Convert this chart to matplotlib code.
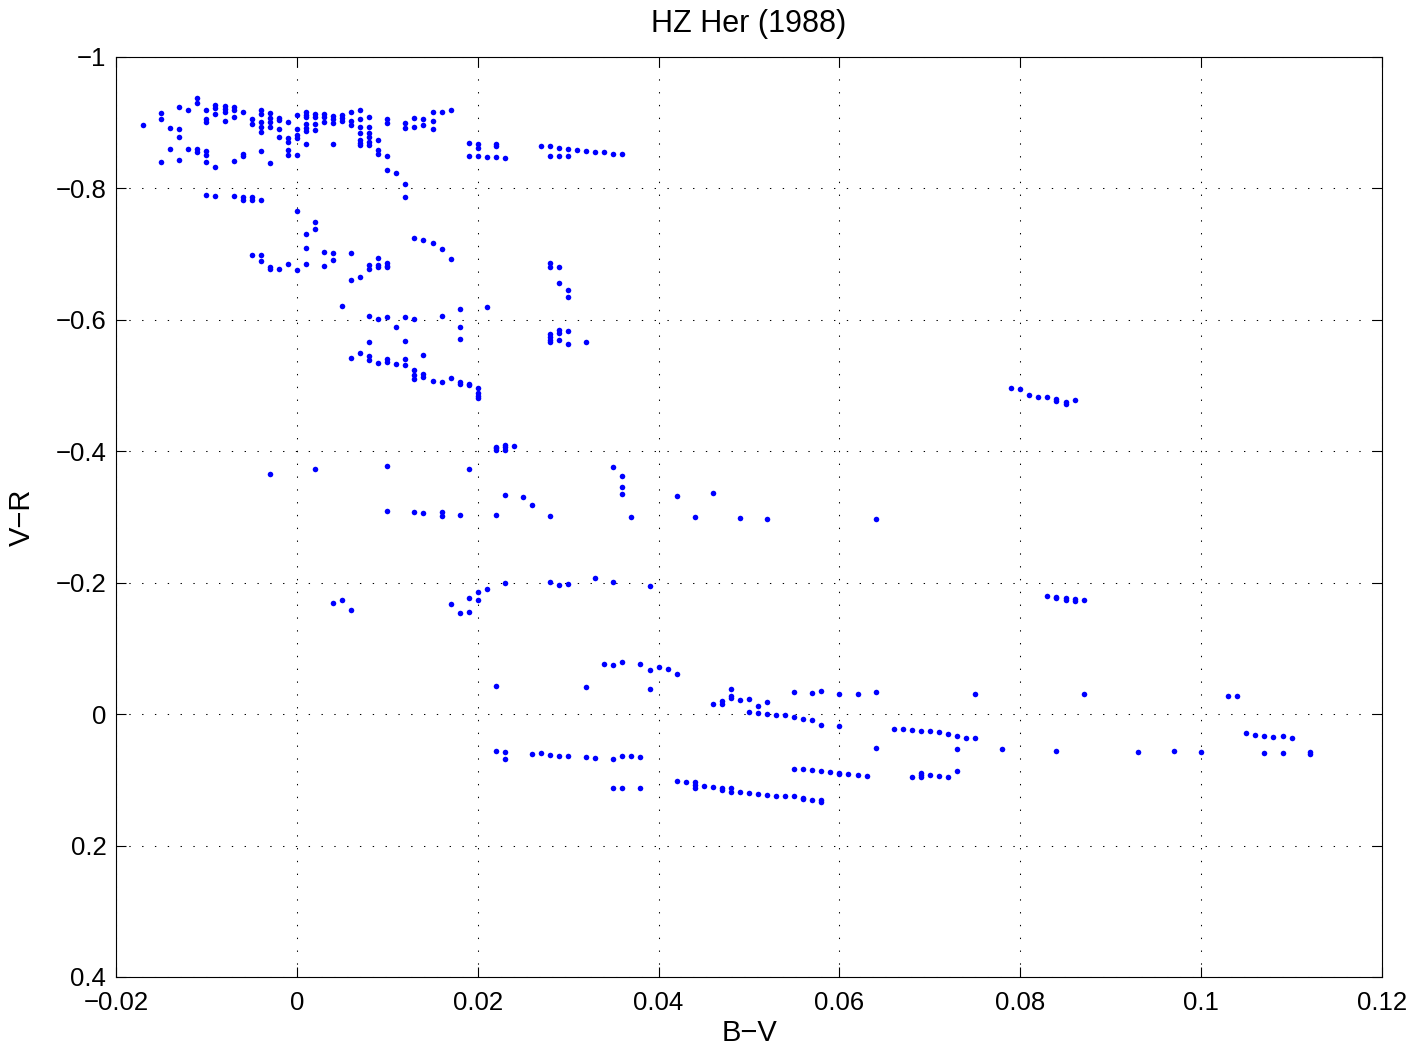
import matplotlib
matplotlib.use("Agg")
import matplotlib.pyplot as plt
import numpy as np

# B-V values in thousandths of a magnitude, V-R in magnitudes
upper_pts = [
    (-17, -0.897), (-15, -0.915), (-15, -0.906), (-15, -0.840), (-14, -0.892), (-14, -0.860),
    (-13, -0.924), (-13, -0.891), (-13, -0.878), (-13, -0.844), (-12, -0.920), (-12, -0.860),
    (-11, -0.938), (-11, -0.930), (-11, -0.860), (-11, -0.856),
    (-10, -0.920), (-10, -0.905), (-10, -0.901), (-10, -0.857), (-10, -0.851), (-10, -0.840), (-10, -0.790),
    (-9, -0.927), (-9, -0.922), (-9, -0.913), (-9, -0.832), (-9, -0.789),
    (-8, -0.926), (-8, -0.921), (-8, -0.917), (-8, -0.902),
    (-7, -0.924), (-7, -0.919), (-7, -0.908), (-7, -0.841), (-7, -0.788),
    (-6, -0.917), (-6, -0.853), (-6, -0.850), (-6, -0.787), (-6, -0.783),
    (-5, -0.906), (-5, -0.898), (-5, -0.787), (-5, -0.783),
    (-4, -0.919), (-4, -0.914), (-4, -0.901), (-4, -0.893), (-4, -0.886), (-4, -0.857), (-4, -0.782),
    (-3, -0.915), (-3, -0.907), (-3, -0.901), (-3, -0.893), (-3, -0.838),
    (-2, -0.907), (-2, -0.904), (-2, -0.891), (-2, -0.878),
    (-1, -0.901), (-1, -0.876), (-1, -0.871), (-1, -0.859), (-1, -0.851),
    (0, -0.912), (0, -0.891), (0, -0.881), (0, -0.876), (0, -0.851),
    (1, -0.917), (1, -0.912), (1, -0.908), (1, -0.898), (1, -0.892), (1, -0.887), (1, -0.868),
    (2, -0.913), (2, -0.908), (2, -0.898), (2, -0.889),
    (3, -0.913), (3, -0.908), (3, -0.901),
    (4, -0.910), (4, -0.905), (4, -0.900), (4, -0.868),
    (5, -0.912), (5, -0.907), (5, -0.903),
    (6, -0.916), (6, -0.903), (6, -0.897),
    (7, -0.919), (7, -0.905), (7, -0.893), (7, -0.884), (7, -0.874), (7, -0.869), (7, -0.866),
    (8, -0.908), (8, -0.893), (8, -0.884), (8, -0.879), (8, -0.871), (8, -0.866),
    (9, -0.874), (9, -0.858), (9, -0.852),
    (10, -0.905), (10, -0.900), (10, -0.850), (10, -0.828), (11, -0.823),
    (12, -0.900), (12, -0.892), (12, -0.807), (12, -0.787),
    (13, -0.907), (13, -0.894), (14, -0.905), (14, -0.897),
    (15, -0.916), (15, -0.903), (15, -0.890), (16, -0.917), (17, -0.920),
    (19, -0.869), (19, -0.850), (20, -0.868), (20, -0.861), (20, -0.849), (21, -0.848),
    (22, -0.867), (22, -0.865), (22, -0.848), (23, -0.846),
    (27, -0.865), (28, -0.864), (28, -0.850), (29, -0.862), (29, -0.850), (30, -0.860), (30, -0.849),
    (31, -0.858), (32, -0.857), (33, -0.856), (34, -0.855), (35, -0.853), (36, -0.852),
]

middle_pts = [
    (0, -0.766), (0, -0.676), (1, -0.730), (1, -0.709), (1, -0.685), (2, -0.749), (2, -0.739),
    (-1, -0.685), (-2, -0.677), (-3, -0.681), (-3, -0.677), (-4, -0.698), (-4, -0.689), (-5, -0.698),
    (3, -0.704), (3, -0.682), (4, -0.701), (4, -0.691), (5, -0.621),
    (6, -0.701), (6, -0.660), (6, -0.542), (7, -0.665), (7, -0.550),
    (8, -0.683), (8, -0.677), (8, -0.606), (8, -0.566), (8, -0.545), (8, -0.539),
    (9, -0.694), (9, -0.683), (9, -0.680), (9, -0.601), (9, -0.535),
    (10, -0.686), (10, -0.682), (10, -0.680), (10, -0.605), (10, -0.541), (10, -0.536),
    (11, -0.589), (11, -0.533), (12, -0.605), (12, -0.568), (12, -0.541), (12, -0.531),
    (13, -0.725), (13, -0.601), (13, -0.523), (13, -0.516), (13, -0.510),
    (14, -0.722), (14, -0.547), (14, -0.518), (14, -0.513),
    (15, -0.717), (15, -0.507), (16, -0.708), (16, -0.606), (16, -0.505),
    (17, -0.693), (17, -0.512), (18, -0.617), (18, -0.589), (18, -0.571), (18, -0.506), (18, -0.503),
    (19, -0.503), (19, -0.501), (20, -0.497), (20, -0.488), (20, -0.484), (20, -0.481), (21, -0.619),
    (28, -0.686), (28, -0.680), (28, -0.578), (28, -0.574), (28, -0.570), (28, -0.566),
    (29, -0.680), (29, -0.656), (29, -0.585), (29, -0.580), (29, -0.570),
    (30, -0.645), (30, -0.635), (30, -0.583), (30, -0.564), (32, -0.567),
    (79, -0.497), (80, -0.495), (81, -0.485), (82, -0.483), (83, -0.482), (84, -0.480),
    (84, -0.477), (85, -0.475), (85, -0.472), (86, -0.478),
]

lower_mid_pts = [
    (-3, -0.365), (2, -0.373), (10, -0.378), (10, -0.309), (13, -0.308), (14, -0.306),
    (16, -0.307), (16, -0.302), (18, -0.303), (19, -0.373),
    (22, -0.407), (22, -0.405), (22, -0.402), (22, -0.303),
    (23, -0.410), (23, -0.406), (23, -0.402), (23, -0.334), (24, -0.408),
    (25, -0.330), (26, -0.319), (28, -0.302), (35, -0.376), (36, -0.363), (36, -0.346), (36, -0.335),
    (37, -0.300), (42, -0.332), (44, -0.300), (46, -0.336), (49, -0.298), (52, -0.297), (64, -0.297),
    (4, -0.169), (5, -0.173), (6, -0.158), (17, -0.167), (18, -0.154), (19, -0.176), (19, -0.156),
    (20, -0.186), (20, -0.173), (21, -0.190), (23, -0.200), (28, -0.201), (29, -0.196), (30, -0.198),
    (33, -0.207), (35, -0.201), (39, -0.195),
    (83, -0.180), (84, -0.178), (84, -0.176), (85, -0.177), (85, -0.174), (86, -0.175),
    (86, -0.172), (87, -0.173),
]

bottom_pts = [
    (22, -0.043), (22, 0.056), (23, 0.057), (23, 0.068), (26, 0.061), (27, 0.059), (28, 0.062),
    (29, 0.063), (30, 0.064), (32, -0.041), (32, 0.065), (33, 0.066), (34, -0.077),
    (35, -0.075), (35, 0.068), (35, 0.112), (36, -0.079), (36, 0.063), (36, 0.113), (37, 0.064),
    (38, -0.077), (38, 0.065), (38, 0.112), (39, -0.067), (39, -0.039), (40, -0.071), (41, -0.069),
    (42, -0.061), (42, 0.102), (43, 0.104), (44, 0.103), (44, 0.108), (44, 0.112), (45, 0.110),
    (46, -0.015), (46, 0.111), (47, -0.020), (47, -0.016), (47, 0.112), (47, 0.116),
    (48, -0.038), (48, -0.028), (48, -0.025), (48, 0.113), (48, 0.118),
    (49, -0.022), (49, 0.119), (50, -0.023), (50, -0.003), (50, 0.120),
    (51, -0.013), (51, -0.001), (51, 0.122), (52, -0.018), (52, 0.000), (52, 0.123),
    (53, 0.001), (53, 0.124), (54, 0.002), (54, 0.125),
    (55, -0.033), (55, 0.004), (55, 0.083), (55, 0.125),
    (56, 0.007), (56, 0.084), (56, 0.127), (56, 0.129),
    (57, -0.032), (57, 0.009), (57, 0.085), (57, 0.130),
    (58, -0.035), (58, 0.016), (58, 0.087), (58, 0.131), (58, 0.133),
    (59, 0.088), (60, -0.030), (60, 0.018), (60, 0.089), (60, 0.091), (61, 0.091),
    (62, -0.031), (62, 0.092), (63, 0.094), (64, -0.033), (64, 0.052),
    (66, 0.022), (67, 0.023), (68, 0.024), (68, 0.095), (69, 0.025), (69, 0.090), (69, 0.093),
    (69, 0.096), (70, 0.026), (70, 0.093), (71, 0.027), (71, 0.094), (72, 0.030), (72, 0.095),
    (73, 0.034), (73, 0.053), (73, 0.086), (74, 0.036), (75, -0.030), (75, 0.037), (78, 0.053),
    (84, 0.056), (87, -0.030), (93, 0.057), (97, 0.056), (100, 0.057), (103, -0.028), (104, -0.027),
    (105, 0.029), (106, 0.031), (107, 0.033), (107, 0.059), (108, 0.035), (109, 0.034), (109, 0.059),
    (110, 0.037), (112, 0.057), (112, 0.061),
]

x_ticks = [-0.02, 0, 0.02, 0.04, 0.06, 0.08, 0.1, 0.12]
y_ticks = [-1, -0.8, -0.6, -0.4, -0.2, 0, 0.2, 0.4]

plt.rcParams['font.family'] = ['Liberation Sans', 'DejaVu Sans']

fig = plt.figure(figsize=(14.28, 10.55), dpi=100)
ax = fig.add_axes([116 / 1428, 1 - 977 / 1055, (1382 - 116) / 1428, (977 - 57) / 1055])

all_pts = upper_pts + middle_pts + lower_mid_pts + bottom_pts
bv = np.array([p[0] for p in all_pts]) * 0.001
vr = np.array([p[1] for p in all_pts])
ax.plot(bv, vr, linestyle='none', marker='o', markersize=4.0, markeredgewidth=0,
        color=(0, 0, 1))

ax.set_xlim(-0.02, 0.12)
ax.set_ylim(0.4, -1)
ax.set_xticks(x_ticks)
ax.set_yticks(y_ticks)
ax.set_xticklabels([('%g' % t).replace('-', '\u2212') for t in x_ticks])
ax.set_yticklabels([('%g' % t).replace('-', '\u2212') for t in y_ticks])
ax.tick_params(direction='in', length=7, width=0.8, top=True, right=True,
               labelsize=18.5, colors='black')
ax.tick_params(axis='x', pad=10)
ax.tick_params(axis='y', pad=7)
ax.grid(True, color='black', linestyle=(0, (1.3, 11)), linewidth=0.75)
for s in ax.spines.values():
    s.set_linewidth(0.8)

ax.set_xlabel('B\u2212V', fontsize=21, labelpad=3)
ax.set_ylabel('V\u2212R', fontsize=21, labelpad=14)
ax.set_title('HZ Her (1988)', fontsize=22, pad=18)

fig.savefig('out.png', dpi=100, facecolor='white')
